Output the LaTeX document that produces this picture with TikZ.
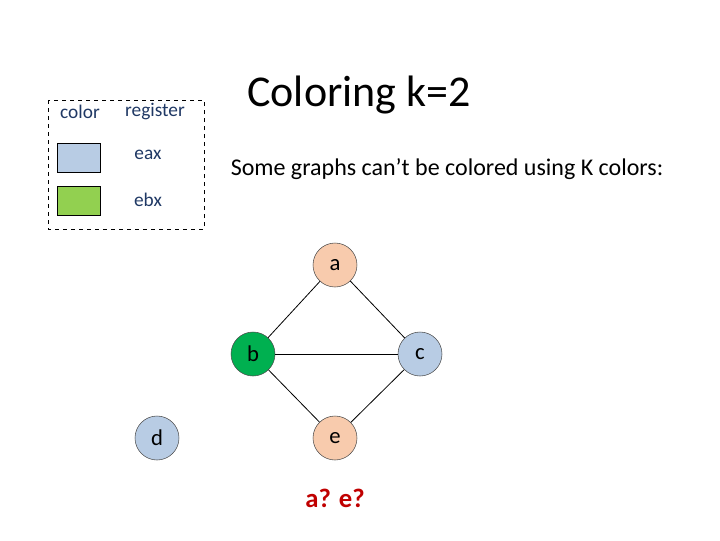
\documentclass[tikz,border=0pt]{standalone}
\usepackage{fontspec}
\setmainfont{Carlito}
\definecolor{txtblue}{HTML}{1F3864}
\definecolor{regblue}{HTML}{B8CCE4}
\definecolor{reggreen}{HTML}{92D050}
\definecolor{vorange}{HTML}{F8CBAD}
\definecolor{vgreen}{HTML}{00B050}
\definecolor{qred}{HTML}{C00000}
\begin{document}
\begin{tikzpicture}[x=0.75pt,y=-0.75pt,
vertex/.style = {draw=black!70, circle, minimum size=33pt, inner sep=0pt, font=\fontsize{17}{20}\selectfont},
swatch/.style = {draw, minimum width=32pt, minimum height=22pt, inner sep=0pt},
legtext/.style = {text=txtblue, font=\fontsize{14.5}{17}\selectfont},
edge/.style = {draw, semithick}
]
\useasboundingbox (0,0) rectangle (720,540);

% legend
\draw [dashed] (48,100) rectangle (204,229);
\node [legtext] (colhead) at (80,112) {color};
\node [legtext] (reghead) at (155,112) {register};
\node [swatch, fill=regblue] (sw1) at (79,158) {};
\node [swatch, fill=reggreen] (sw2) at (79,201) {};
\node [legtext] (eax) at (148,155) {eax};
\node [legtext] (ebx) at (148,200) {ebx};

% titles
\node [font=\fontsize{33}{38}\selectfont] (title) at (359,95) {Coloring k=2};
\node [font=\fontsize{18}{21}\selectfont] (sub) at (447,169) {Some graphs can’t be colored using K colors:};

% graph
\node [vertex, fill=vorange] (a) at (335,265) {a};
\node [vertex, fill=vgreen] (b) at (253,354) {b};
\node [vertex, fill=regblue] (c) at (420,354) {c};
\node [vertex, fill=regblue] (d) at (157,438) {d};
\node [vertex, fill=vorange] (e) at (335,438) {e};

\draw [edge] (a) -- (b);
\draw [edge] (a) -- (c);
\draw [edge] (b) -- (c);
\draw [edge] (b) -- (e);
\draw [edge] (c) -- (e);

\node [text=qred, font=\bfseries\fontsize{20}{24}\selectfont] (q) at (335,498) {a? e?};
\end{tikzpicture}
\end{document}
